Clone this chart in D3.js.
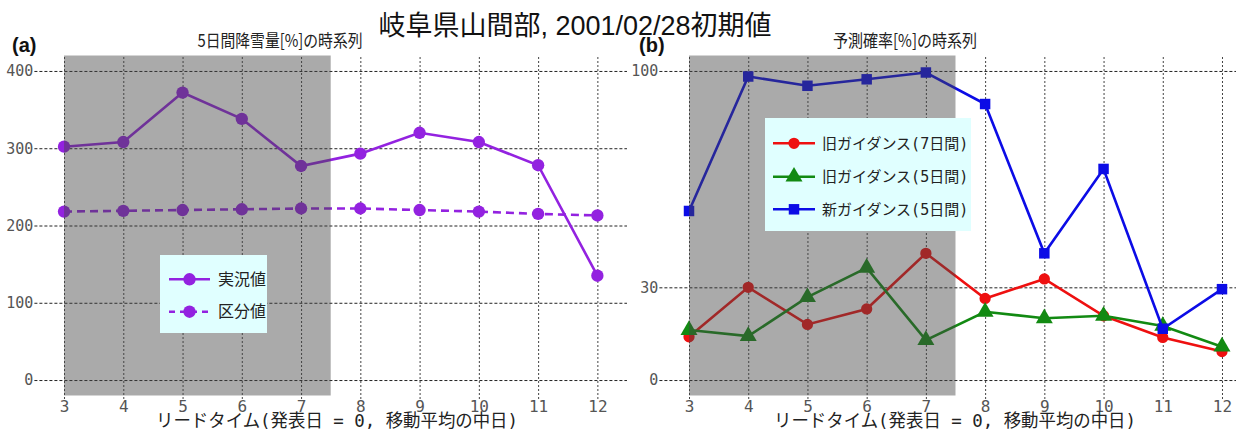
<!DOCTYPE html>
<html><head><meta charset="utf-8">
<script src="https://cdn.jsdelivr.net/npm/d3@7"></script>
<style>body{margin:0;background:#fff;overflow:hidden}</style></head>
<body>
<svg id="c" width="1236" height="430"></svg>
<script>
// ---- data ----
const leadTimes = [3,4,5,6,7,8,9,10,11,12];
const leftYTicks = [0,100,200,300,400];
const rightYTicks = [0,30,100];
const jikkyo = [302,308,372,338,277,293,320,308,278,135];      // 実況値
const kubun  = [218,219,220,221,222,222,220,218,215,213];      // 区分値
const oldG7  = [14,30,18,23,41,26.4,32.7,20.8,13.8,9.2];       // 旧ガイダンス(7日間)
const oldG5  = [16.2,14.2,26.8,36.3,12.9,22.1,20,20.8,17.5,10.8]; // 旧ガイダンス(5日間)
const newG5  = [54.7,98.2,95.2,97.3,99.5,89.3,41,68.3,16.6,29.4]; // 新ガイダンス(5日間)
const shadeRange = [3, 7.5];
const title = "岐阜県山間部, 2001/02/28初期値";
const xLabel = "リードタイム(発表日 = 0, 移動平均の中日)";

const svg = d3.select("#c");
const monoCJK = "'DejaVu Sans Mono','Noto Sans CJK JP',sans-serif";
const sansCJK = "'Liberation Sans','Noto Sans CJK JP',sans-serif";

const PURPLE = "#9322e0", RED = "#ee1010", GREEN = "#128a12", BLUE = "#0c0ce6";

function symbolPath(type, size){
  return d3.symbol().type(type).size(size)();
}

function panel(cfg){
  const g = svg.append("g");
  const x = d3.scaleLinear().domain([2.5,12.5]).range(cfg.xr);
  const y = d3.scaleLinear().domain(cfg.yd).range([395.5,55.5]);
  const W = cfg.xr[1]-cfg.xr[0];

  // horizontal grid + y tick labels
  const ya = g.append("g").attr("transform",`translate(${cfg.xr[0]},0)`)
    .call(d3.axisLeft(y).tickValues(cfg.yTicks).tickSize(-W).tickPadding(1).tickFormat(d3.format("d")));
  ya.select(".domain").remove();
  ya.selectAll(".tick line").attr("stroke","#222").attr("stroke-dasharray","3,2").attr("stroke-width",1);
  ya.selectAll(".tick text").attr("font-family",monoCJK).attr("font-size",15).attr("fill","#555");

  // vertical grid + x tick labels
  const xa = g.append("g").attr("transform","translate(0,399)")
    .call(d3.axisBottom(x).tickValues(leadTimes).tickSize(-344).tickPadding(2));
  xa.select(".domain").remove();
  xa.selectAll(".tick line").attr("stroke","#444").attr("stroke-dasharray","2,2").attr("stroke-width",1);
  xa.selectAll(".tick text").attr("font-family",monoCJK).attr("font-size",16).attr("fill","#555");

  // series
  cfg.series.forEach(s=>{
    const line = d3.line().x((d,i)=>x(leadTimes[i])).y(d=>y(d));
    g.append("path").datum(s.values).attr("d",line).attr("fill","none")
      .attr("stroke",s.color).attr("stroke-width",2.6)
      .attr("stroke-dasharray",s.dash||null);
    g.selectAll(null).data(s.values).enter().append("path")
      .attr("transform",(d,i)=>`translate(${x(leadTimes[i])},${y(d)})`)
      .attr("d",symbolPath(s.sym,s.size)).attr("fill",s.color);
  });

  // shaded lead-time range (semi-transparent overlay)
  g.append("rect").attr("x",x(shadeRange[0])).attr("y",y(cfg.yd[1]))
    .attr("width",x(shadeRange[1])-x(shadeRange[0]))
    .attr("height",y(cfg.yd[0])-y(cfg.yd[1]))
    .attr("fill","rgb(70,70,70)").attr("opacity",0.46);

  // legend
  const L = cfg.legend;
  const lg = g.append("g");
  lg.append("rect").attr("x",L.x).attr("y",L.y).attr("width",L.w).attr("height",L.h).attr("fill","#e0ffff");
  cfg.series.forEach((s,i)=>{
    const yy = L.rows[i];
    lg.append("line").attr("x1",L.lx0).attr("x2",L.lx1).attr("y1",yy).attr("y2",yy)
      .attr("stroke",s.color).attr("stroke-width",2.6).attr("stroke-dasharray",s.dash?"6,5":null);
    lg.append("path").attr("transform",`translate(${(L.lx0+L.lx1)/2},${yy})`)
      .attr("d",symbolPath(s.sym,s.size)).attr("fill",s.color);
    lg.append("text").attr("x",L.tx).attr("y",yy).attr("dy","0.36em")
      .attr("font-family",monoCJK).attr("font-size",L.fs).attr("fill","#222").text(s.name);
  });

  // subtitle, panel letter, x label
  g.append("text").attr("x",cfg.subX).attr("y",47).attr("text-anchor","middle")
    .attr("font-family","'Noto Sans CJK JP',sans-serif").attr("font-size",17.5)
    .attr("textLength",cfg.subW).attr("lengthAdjust","spacingAndGlyphs")
    .attr("fill","#222").text(cfg.sub);
  g.append("text").attr("x",cfg.letterX).attr("y",52).attr("font-family",sansCJK)
    .attr("font-weight","bold").attr("font-size",20).attr("fill","#111").text(cfg.letter);
  g.append("text").attr("x",cfg.labX).attr("y",427).attr("text-anchor","middle")
    .attr("font-family",monoCJK).attr("font-size",18).attr("fill","#222")
    .attr("textLength",362).attr("lengthAdjust","spacingAndGlyphs").text(xLabel);
}

panel({
  xr:[34.4,627], yd:[-20,420], yTicks:leftYTicks,
  series:[
    {name:"実況値", values:jikkyo, color:PURPLE, sym:d3.symbolCircle, size:120},
    {name:"区分値", values:kubun, color:PURPLE, sym:d3.symbolCircle, size:120, dash:"8,5"}
  ],
  legend:{x:160,y:255,w:107,h:78,rows:[279.3,311.7],lx0:169,lx1:210,tx:218,fs:16},
  sub:"5日間降雪量[%]の時系列", subX:280, subW:165, letter:"(a)", letterX:12, labX:337
});

panel({
  xr:[659.4,1251.6], yd:[-5,105], yTicks:rightYTicks,
  series:[
    {name:"旧ガイダンス(7日間)", values:oldG7, color:RED, sym:d3.symbolCircle, size:100},
    {name:"旧ガイダンス(5日間)", values:oldG5, color:GREEN, sym:d3.symbolTriangle, size:125},
    {name:"新ガイダンス(5日間)", values:newG5, color:BLUE, sym:d3.symbolSquare, size:110}
  ],
  legend:{x:765,y:118,w:206,h:113,rows:[143.3,176.7,209.3],lx0:773,lx1:815,tx:822,fs:15},
  sub:"予測確率[%]の時系列", subX:905, subW:144, letter:"(b)", letterX:639, labX:955
});

svg.append("text").attr("x",575).attr("y",35).attr("text-anchor","middle")
  .attr("font-family",sansCJK).attr("font-size",27).attr("fill","#111").text(title);
</script>
</body></html>
